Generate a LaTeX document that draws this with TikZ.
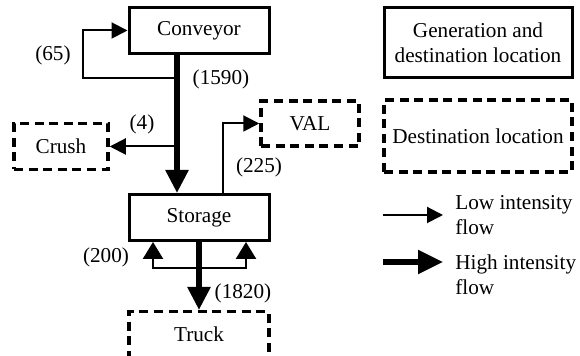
\documentclass[tikz,border=0pt]{standalone}
\usepackage{fontspec}
\setmainfont{Liberation Serif}
\usetikzlibrary{positioning}
\usetikzlibrary{arrows.meta}
\tikzset{
  genloc/.style= {
    rectangle,
    draw,
    line width = 1.5pt,
    minimum width = 70pt,
    minimum height = 23pt,
    inner sep = 1pt,
    align = center
  },
  destloc/.style= {
    rectangle,
    draw,
    line width = 1.75pt,
    dash pattern = on 4.5pt off 2.8pt,
    minimum width = 70pt,
    minimum height = 23pt,
    inner sep = 1pt,
    align = center
  },
  lowflow/.style= {
    line width = 1pt,
    -{Triangle[length=8pt,width=8pt]}
  },
  backflow/.style= {
    line width = 1.2pt,
    -{Triangle[length=8.5pt,width=10pt]}
  },
  highflow/.style= {
    line width = 2.75pt,
    -{Triangle[length=11.5pt,width=11pt]}
  },
  flowlab/.style= {
    inner sep = 0pt
  }
}

\begin{document}
\begin{tikzpicture}[x=0.5pt,y=-0.5pt,font=\fontsize{10.6}{12.6}\selectfont]
  \useasboundingbox (0,0) rectangle (580,356);

  % locations
  \node[genloc] (conv) at (199,30.5) {Conveyor};
  \node[genloc,below=69pt of conv] (stor) {Storage};
  \node[destloc,below=34pt of stor] (truck) {Truck};
  \node[destloc,minimum width=47pt] (crush) at (61,146.5) {Crush};
  \node[destloc,minimum width=49pt,minimum height=22.5pt] (val) at (310,123.5) {VAL};

  % legend
  \node[genloc,minimum width=94pt,minimum height=35pt] (leggen) at (478,43) {Generation and\\destination location};
  \node[destloc,minimum width=94pt,minimum height=36pt] (legdest) at (478,136) {Destination location};
  \node[flowlab,anchor=west,align=left] (leglow) at (455,215) {Low intensity\\flow};
  \node[flowlab,anchor=west,align=left] (leghigh) at (455,275) {High intensity\\flow};
  \coordinate (lowtail) at (383,215);
  \coordinate (lowhead) at (443,215);
  \coordinate (hightail) at (383,262);
  \coordinate (highhead) at (443,262);
  \draw[lowflow] (lowtail) -- (lowhead);
  \draw[highflow,-{Triangle[length=12.5pt,width=11.5pt]}] (hightail) -- (highhead);

  % low intensity flows
  \coordinate (j65) at (177,78);
  \coordinate (k65) at (83,78);
  \draw[lowflow] (j65) -- (k65) |- (conv.west);
  \coordinate (j4) at (177,146.5);
  \draw[lowflow] (j4) -- (crush.east);
  \draw[lowflow] ([xshift=12pt]stor.north) |- (val.west);
  \coordinate (j200) at (199,268);
  \draw[backflow] (j200) -| ([xshift=-23pt]stor.south);
  \draw[backflow] (j200) -| ([xshift=23.5pt]stor.south);

  % high intensity flows
  \draw[highflow] ([xshift=-11pt]conv.south) -- ([xshift=-11pt]stor.north);
  \draw[highflow] (stor) -- (truck);

  % flow values
  \node (n65) at (53,55) {(65)};
  \node (n1590) at (221,79) {(1590)};
  \node (n4) at (142,124) {(4)};
  \node (n225) at (259,167) {(225)};
  \node (n200) at (106,257) {(200)};
  \node (n1820) at (243,293) {(1820)};

\end{tikzpicture}
\end{document}
